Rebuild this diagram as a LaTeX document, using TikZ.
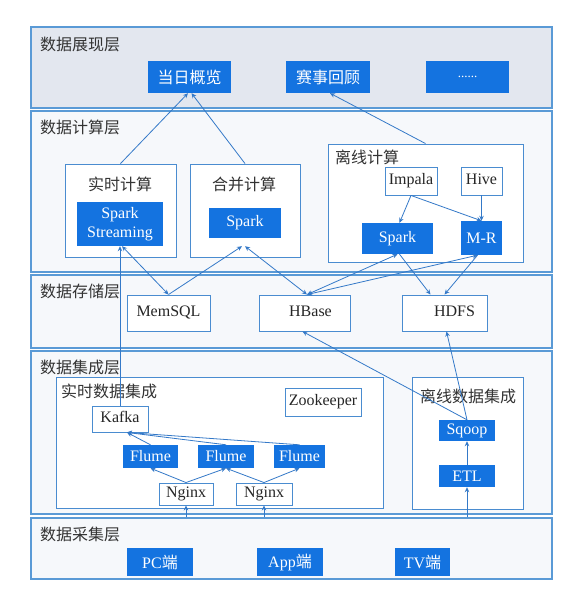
\documentclass[tikz,border=0pt]{standalone}
\usepackage{fontspec}
\setmainfont{Liberation Serif}
\newfontfamily\cjk{Noto Sans CJK SC}
\usetikzlibrary{arrows.meta,calc}
\definecolor{bluefill}{HTML}{1473E0}
\definecolor{layerline}{HTML}{5A9AD6}
\definecolor{boxline}{HTML}{4A8CD0}
\definecolor{arrowc}{HTML}{3479C8}
\definecolor{toplayer}{HTML}{E3E7EF}
\definecolor{layerfill}{HTML}{F6F8FB}
\tikzset{
  layer/.style={draw=layerline, line width=1.1pt, fill=layerfill, inner sep=0pt, minimum width=521pt},
  sub/.style={draw=boxline, line width=0.9pt, fill=white, inner sep=0pt},
  wbox/.style={draw=boxline, line width=0.9pt, fill=white, inner sep=0pt, font=\fontsize{16}{18}\selectfont, text=black!85, text height=10.5pt, text depth=3pt},
  bbox/.style={fill=bluefill, inner sep=0pt, font=\fontsize{16}{18.5}\selectfont, text=white, align=center},
  ttl/.style={font=\fontsize{16}{18}\selectfont\cjk, text=black!80, inner sep=0pt},
  arr/.style={draw=arrowc, line width=0.8pt, -{Stealth[length=5pt,width=4.5pt]}},
  barr/.style={draw=arrowc, line width=0.8pt, {Stealth[length=5pt,width=4.5pt]}-{Stealth[length=5pt,width=4.5pt]}}
}
\begin{document}
\begin{tikzpicture}[x=1pt,y=-1pt]
\path[use as bounding box, fill=white] (0,0) rectangle (567,589);
% layers
\node[layer, fill=toplayer, minimum height=81pt] (L1) at (291.5,67.5) {};
\node[layer, minimum height=161pt] (L2) at (291.5,191.5) {};
\node[layer, minimum height=73pt] (L3) at (291.5,311.5) {};
\node[layer, minimum height=163pt] (L4) at (291.5,432.5) {};
\node[layer, minimum height=61pt] (L5) at (291.5,548.5) {};
\node[ttl, anchor=west] (t1) at (40,44) {数据展现层};
\node[ttl, anchor=west] (t2) at (40,127) {数据计算层};
\node[ttl, anchor=west] (t3) at (40,291) {数据存储层};
\node[ttl, anchor=west] (t4) at (40,367) {数据集成层};
\node[ttl, anchor=west] (t5) at (40,534) {数据采集层};
% presentation
\node[bbox, minimum width=83pt, minimum height=32pt] (dr) at (189.5,77) {\cjk 当日概览};
\node[bbox, minimum width=84pt, minimum height=32pt] (ss) at (328,77) {\cjk 赛事回顾};
\node[bbox, minimum width=83pt, minimum height=32pt] (more) at (467.5,77) {\fontsize{13}{13}\selectfont ......};
% compute
\node[sub, minimum width=111pt, minimum height=93pt] (rt) at (120.5,210.5) {};
\node[sub, minimum width=110pt, minimum height=93pt] (hb) at (245,210.5) {};
\node[sub, minimum width=195pt, minimum height=118pt] (lx) at (425.5,203) {};
\node[ttl] (trt) at (120,184) {实时计算};
\node[ttl] (thb) at (244,184) {合并计算};
\node[ttl, anchor=west] (tlx) at (335,157) {离线计算};
\node[bbox, minimum width=86pt, minimum height=44pt] (sst) at (120,224) {Spark\\Streaming};
\node[bbox, minimum width=72pt, minimum height=30pt] (spm) at (245,223) {Spark};
\node[wbox, minimum width=52pt, minimum height=28pt] (imp) at (411,181) {Impala};
\node[wbox, minimum width=41pt, minimum height=28pt] (hive) at (481.5,181) {Hive};
\node[bbox, minimum width=71pt, minimum height=31pt] (spo) at (397.5,238.5) {Spark};
\node[bbox, minimum width=41pt, minimum height=34pt] (mr) at (481.5,238) {M-R};
% storage
\node[wbox, minimum width=83pt, minimum height=36pt] (mem) at (168.5,313) {MemSQL};
\node[wbox, minimum width=91pt, minimum height=36pt] (hbase) at (304.5,313) {\hspace*{12pt}HBase};
\node[wbox, minimum width=85pt, minimum height=36pt] (hdfs) at (444.5,313) {\hspace*{20pt}HDFS};
% integration
\node[sub, minimum width=327pt, minimum height=131pt] (rti) at (219.5,442.5) {};
\node[sub, minimum width=111pt, minimum height=132pt] (lxi) at (467.5,443) {};
\node[ttl, anchor=west] (trti) at (61,391) {实时数据集成};
\node[ttl] (tlxi) at (468,396) {离线数据集成};
\node[wbox, minimum width=76pt, minimum height=28pt] (zk) at (323,402) {Zookeeper};
\node[wbox, minimum width=56pt, minimum height=26pt] (kafka) at (120,419) {Kafka};
\node[bbox, minimum width=55pt, minimum height=23pt] (fl1) at (150.5,456.5) {Flume};
\node[bbox, minimum width=56pt, minimum height=23pt] (fl2) at (226,456.5) {Flume};
\node[bbox, minimum width=51pt, minimum height=23pt] (fl3) at (299.5,456.5) {Flume};
\node[wbox, minimum width=54pt, minimum height=22pt] (ng1) at (186,494) {Nginx};
\node[wbox, minimum width=56pt, minimum height=22pt] (ng2) at (264,494) {Nginx};
\node[bbox, minimum width=56pt, minimum height=21pt] (sqoop) at (467,430.5) {Sqoop};
\node[bbox, minimum width=56pt, minimum height=22pt] (etl) at (467,476) {ETL};
% collection
\node[bbox, minimum width=66pt, minimum height=28pt] (pc) at (160,562) {PC{\cjk 端}};
\node[bbox, minimum width=66pt, minimum height=28pt] (app) at (290,562) {App{\cjk 端}};
\node[bbox, minimum width=55pt, minimum height=28pt] (tv) at (422.5,562) {TV{\cjk 端}};
% connectors
\draw[arr] (rt.north) -- ([xshift=-1.5pt]dr.south);
\draw[arr] (hb.north) -- ([xshift=2pt]dr.south);
\draw[arr] (lx.north) -- ([xshift=2pt]ss.south);
\draw[arr] (kafka.north) -- (sst.south);
\draw[barr] ([xshift=2pt]sst.south) -- (mem.north);
\draw[arr] (mem.north) -- ([xshift=-3pt,yshift=-8pt]spm.south);
\draw[barr] ([yshift=-8pt]spm.south) -- ([xshift=2.5pt]hbase.north);
\draw[barr] (spo.south) -- ([xshift=2.5pt]hbase.north);
\draw[barr] ([xshift=-4pt]mr.south) -- ([xshift=2.5pt]hbase.north);
\draw[arr] ([xshift=2pt]spo.south) -- ([xshift=-14pt]hdfs.north);
\draw[arr] ([xshift=-4pt]mr.south) -- (hdfs.north);
\draw[arr] (imp.south) -- ([xshift=2pt]spo.north);
\draw[arr] (imp.south) -- (mr.north);
\draw[arr] (hive.south) -- (mr.north);
\draw[arr] (sqoop.north) -- ([xshift=-2pt]hbase.south);
\draw[arr] (sqoop.north) -- ([xshift=2pt]hdfs.south);
\draw[arr] (etl.north) -- (sqoop.south);
\draw[arr] (etl |- L5.north) -- (etl.south);
\draw[arr] (ng1 |- L5.north) -- (ng1.south);
\draw[arr] (ng2 |- L5.north) -- (ng2.south);
\draw[arr] (ng1.north) -- (fl1.south);
\draw[arr] (ng1.north) -- (fl2.south);
\draw[arr] (ng2.north) -- (fl2.south);
\draw[arr] (ng2.north) -- (fl3.south);
\draw[arr] (fl1.north) -- ([xshift=7pt]kafka.south);
\draw[arr] (fl2.north) -- ([xshift=7pt]kafka.south);
\draw[arr] (fl3.north) -- ([xshift=7pt]kafka.south);
\end{tikzpicture}
\end{document}
